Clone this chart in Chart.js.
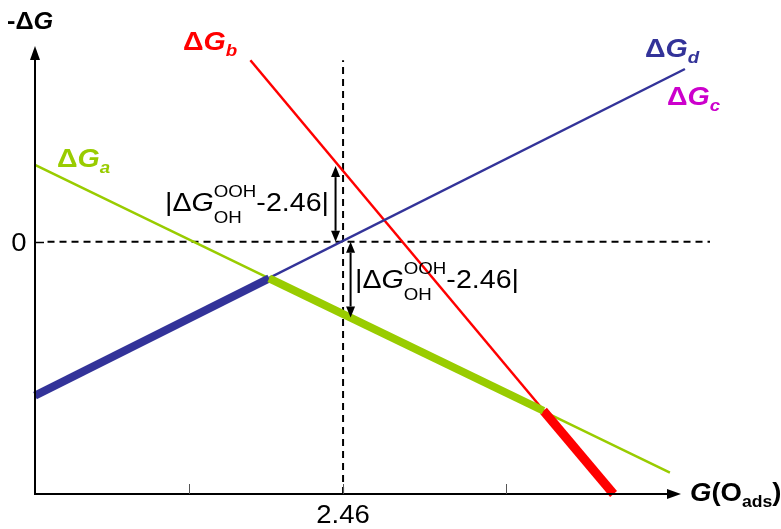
<!DOCTYPE html>
<html lang="en">

<head>
    <meta charset="UTF-8">
    <title>Delta G lines</title>
    <script src="https://cdn.jsdelivr.net/npm/chart.js"></script>
    <style>
        body { margin: 0; background: #fff; }
        .chart-container { width: 781px; height: 529px; position: relative; }
    </style>
</head>

<body>
    <div class="chart-container">
        <canvas id="grafico"></canvas>
    </div>

<script>
    // linhas
    const aX = [0, 5.07], aY = [0.61, -1.83];
    const aBoldX = [1.87, 4.06], aBoldY = [-0.29, -1.34];
    const bX = [1.72, 4.62], bY = [1.44, -2.0];
    const bBoldX = [4.06, 4.62], bBoldY = [-1.34, -2.0];
    const dX = [0, 5.19], dY = [-1.22, 1.37];
    const dBoldX = [0, 1.87], dBoldY = [-1.22, -0.29];

    // linhas tracejadas
    const zeroX = [0.1, 5.39], zeroY = [0, 0];
    const refX = [2.46, 2.46], refY = [-2.0, 1.44];

    // setas |dG - 2.46|
    const gapX = [2.40, 2.52];
    const gapY = [0.6, -0.6];

    // ticks
    const xTicks = [1.23, 2.46, 3.76];
    const xTickLabels = ['', '2.46', ''];
    const yTicks = [0];
    const yTickLabels = ['0'];

    const verde = '#99cc00', azul = '#333399', vermelho = '#ff0000', magenta = '#cc00cc';
    const FONTE = '"Liberation Sans", Arial, Helvetica, sans-serif';
    const SX = 1.1; // texto um pouco mais largo como na figura

    function pontos(xs, ys) {
        return xs.map((x, i) => ({ x: x, y: ys[i] }));
    }

    function linha(xs, ys, cor, largura, ordem, dash) {
        return {
            data: pontos(xs, ys),
            borderColor: cor,
            borderWidth: largura,
            borderDash: dash || [],
            showLine: true,
            pointRadius: 0,
            order: ordem,
            clip: false
        };
    }

    // escreve pedaços de texto em sequência: {t, f, dy, cor}
    function escrever(ctx, partes, x, y, cor) {
        let cx = x;
        partes.forEach((p) => {
            ctx.save();
            ctx.font = p.f;
            ctx.fillStyle = p.cor || cor;
            ctx.textBaseline = 'alphabetic';
            ctx.textAlign = 'left';
            ctx.translate(cx, y + (p.dy || 0));
            ctx.scale(SX, 1);
            ctx.fillText(p.t, 0, 0);
            const w = ctx.measureText(p.t).width * SX;
            ctx.restore();
            cx += w;
        });
        return cx;
    }

    function largura(ctx, t, f) {
        ctx.save();
        ctx.font = f;
        const w = ctx.measureText(t).width * SX;
        ctx.restore();
        return w;
    }

    function rotuloDG(ctx, x, y, sub, cor) {
        escrever(ctx, [
            { t: 'Δ', f: 'bold 26px ' + FONTE },
            { t: 'G', f: 'italic bold 26px ' + FONTE },
            { t: sub, f: 'italic bold 17px ' + FONTE, dy: 6 }
        ], x, y, cor);
    }

    function rotuloGap(ctx, x, y) {
        const fg = '26px ' + FONTE, fp = '17px ' + FONTE;
        let cx = escrever(ctx, [
            { t: '|Δ', f: fg },
            { t: 'G', f: 'italic ' + fg }
        ], x, y, '#000');
        escrever(ctx, [{ t: 'OOH', f: fp, dy: -14 }], cx, y, '#000');
        escrever(ctx, [{ t: 'OH', f: fp, dy: 12 }], cx, y, '#000');
        cx += Math.max(largura(ctx, 'OOH', fp), largura(ctx, 'OH', fp));
        escrever(ctx, [{ t: '-2.46|', f: fg }], cx, y, '#000');
    }

    function setaDupla(ctx, x, y1, y2) {
        const h = 11, w = 4.5;
        ctx.save();
        ctx.strokeStyle = '#000';
        ctx.fillStyle = '#000';
        ctx.lineWidth = 2;
        const s = y2 > y1 ? 1 : -1;
        ctx.beginPath();
        ctx.moveTo(x, y1 + s * h);
        ctx.lineTo(x, y2 - s * h);
        ctx.stroke();
        ctx.beginPath();
        ctx.moveTo(x, y1);
        ctx.lineTo(x - w, y1 + s * h);
        ctx.lineTo(x + w, y1 + s * h);
        ctx.closePath();
        ctx.fill();
        ctx.beginPath();
        ctx.moveTo(x, y2);
        ctx.lineTo(x - w, y2 - s * h);
        ctx.lineTo(x + w, y2 - s * h);
        ctx.closePath();
        ctx.fill();
        ctx.restore();
    }

    const eixos = {
        id: 'eixos',
        afterDatasetsDraw(chart) {
            const ctx = chart.ctx;
            const xs = chart.scales.x, ys = chart.scales.y;
            const x0 = xs.getPixelForValue(0);
            const y0 = ys.getPixelForValue(ys.min);

            ctx.save();
            ctx.strokeStyle = '#000';
            ctx.fillStyle = '#000';
            ctx.lineWidth = 2;
            // eixo y
            ctx.beginPath();
            ctx.moveTo(x0, y0 + 1);
            ctx.lineTo(x0, 58);
            ctx.stroke();
            ctx.beginPath();
            ctx.moveTo(x0, 46);
            ctx.lineTo(x0 - 5, 60);
            ctx.lineTo(x0 + 5, 60);
            ctx.closePath();
            ctx.fill();
            // eixo x
            ctx.beginPath();
            ctx.moveTo(x0 - 1, y0);
            ctx.lineTo(668, y0);
            ctx.stroke();
            ctx.beginPath();
            ctx.moveTo(681, y0);
            ctx.lineTo(667, y0 - 5);
            ctx.lineTo(667, y0 + 5);
            ctx.closePath();
            ctx.fill();

            // ticks
            ctx.strokeStyle = '#555';
            ctx.lineWidth = 1;
            xTicks.forEach((v) => {
                const px = Math.round(xs.getPixelForValue(v)) + 0.5;
                ctx.beginPath();
                ctx.moveTo(px, y0);
                ctx.lineTo(px, y0 - 10);
                ctx.stroke();
            });
            ctx.strokeStyle = '#000';
            ctx.lineWidth = 1.5;
            yTicks.forEach((v) => {
                const py = Math.round(ys.getPixelForValue(v)) + 0.5;
                ctx.beginPath();
                ctx.moveTo(x0, py);
                ctx.lineTo(x0 + 9, py);
                ctx.stroke();
            });
            ctx.restore();

            // rótulos dos ticks
            xTicks.forEach((v, i) => {
                const t = xTickLabels[i];
                if (!t) return;
                const f = '25px ' + FONTE;
                const w = largura(ctx, t, f);
                escrever(ctx, [{ t: t, f: f }], xs.getPixelForValue(v) - w / 2, y0 + 29, '#000');
            });
            yTicks.forEach((v, i) => {
                const f = '25px ' + FONTE;
                const w = largura(ctx, yTickLabels[i], f);
                escrever(ctx, [{ t: yTickLabels[i], f: f }], 19 - w / 2, ys.getPixelForValue(v) + 9, '#000');
            });

            // setas
            setaDupla(ctx, xs.getPixelForValue(gapX[0]), ys.getPixelForValue(gapY[0]), ys.getPixelForValue(0));
            setaDupla(ctx, xs.getPixelForValue(gapX[1]), ys.getPixelForValue(0), ys.getPixelForValue(gapY[1]));

            // textos
            escrever(ctx, [
                { t: '-Δ', f: 'bold 23px ' + FONTE },
                { t: 'G', f: 'italic bold 23px ' + FONTE }
            ], 7, 29, '#000');
            escrever(ctx, [
                { t: 'G', f: 'italic bold 25px ' + FONTE },
                { t: '(O', f: 'bold 25px ' + FONTE },
                { t: 'ads', f: 'bold 16px ' + FONTE, dy: 6 },
                { t: ')', f: 'bold 25px ' + FONTE }
            ], 690, 501, '#000');

            rotuloDG(ctx, 183, 50, 'b', vermelho);
            rotuloDG(ctx, 57, 167, 'a', verde);
            rotuloDG(ctx, 645, 57, 'd', azul);
            rotuloDG(ctx, 667, 105, 'c', magenta);

            rotuloGap(ctx, 165, 211);
            rotuloGap(ctx, 355, 288);
        }
    };

    const ctx = document.getElementById('grafico');
    new Chart(ctx, {
        type: 'scatter',
        data: {
            datasets: [
                linha(aBoldX, aBoldY, verde, 8, 0),
                linha(dBoldX, dBoldY, azul, 8, 0),
                linha(bBoldX, bBoldY, vermelho, 9, 0),
                linha(aX, aY, verde, 2.5, 1),
                linha(dX, dY, azul, 2.5, 1),
                linha(bX, bY, vermelho, 2.5, 1),
                linha(zeroX, zeroY, '#000', 2, 2, [7, 5]),
                linha(refX, refY, '#000', 2, 2, [7, 5])
            ]
        },
        options: {
            responsive: true,
            maintainAspectRatio: false,
            animation: false,
            layout: {
                padding: { left: 35, right: 66, top: 40, bottom: 35 }
            },
            scales: {
                x: { type: 'linear', min: 0, max: 5.43, display: false },
                y: { type: 'linear', min: -2.0, max: 1.6, display: false }
            },
            plugins: {
                legend: { display: false },
                tooltip: { enabled: false }
            }
        },
        plugins: [eixos]
    });
</script>
</body>

</html>
